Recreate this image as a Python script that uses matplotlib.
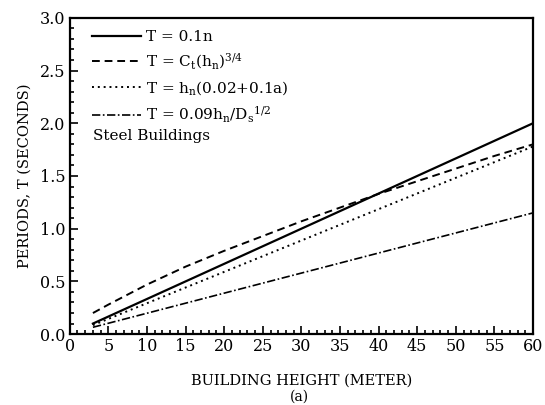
import matplotlib
matplotlib.use("Agg")
import matplotlib.pyplot as plt
from matplotlib.ticker import MultipleLocator

plt.rcParams["font.family"] = "DejaVu Serif"
plt.rcParams["mathtext.fontset"] = "dejavuserif"

# building height (m) and estimated periods for each code formula
h_lin = [3, 60]
t_stories = [0.10, 2.00]
h_curve = [3, 5, 10, 15, 20, 25, 30, 35, 40, 45, 50, 55, 60]
t_ct = [0.20, 0.28, 0.47, 0.64, 0.79, 0.93, 1.07, 1.20, 1.33, 1.45, 1.57, 1.69, 1.80]
t_hn = [0.085, 1.78]
t_ds = [0.065, 1.15]

labels = [
    "T = 0.1n",
    r"T = C$_{\rm t}$(h$_{\rm n}$)$^{3/4}$",
    r"T = h$_{\rm n}$(0.02+0.1a)",
    r"T = 0.09h$_{\rm n}$/D$_{\rm s}$$^{1/2}$",
]

fig = plt.figure(figsize=(5.45, 4.05), dpi=100)
ax = fig.add_axes([0.128, 0.175, 0.85, 0.781])

ax.plot(h_lin, t_stories, color="black", lw=1.6, ls="-", label=labels[0])
ax.plot(h_curve, t_ct, color="black", lw=1.4, ls=(0, (4, 2.5)), label=labels[1])
ax.plot(h_lin, t_hn, color="black", lw=1.4, ls=(0, (1, 2)), label=labels[2])
ax.plot(h_lin, t_ds, color="black", lw=1.2, ls=(0, (5, 1.5, 1, 1.5)), label=labels[3])

ax.set_xlim(0, 60)
ax.set_ylim(0, 3.0)
ax.xaxis.set_major_locator(MultipleLocator(5))
ax.xaxis.set_minor_locator(MultipleLocator(1))
ax.yaxis.set_major_locator(MultipleLocator(0.5))
ax.yaxis.set_minor_locator(MultipleLocator(0.1))
ax.yaxis.set_major_formatter(plt.FormatStrFormatter("%.1f"))
ax.tick_params(which="both", direction="in", labelsize=11.5, width=1.2, pad=3)
ax.tick_params(which="major", length=6)
ax.tick_params(which="minor", length=3)
for s in ax.spines.values():
    s.set_linewidth(1.6)

ax.set_xlabel("BUILDING HEIGHT (METER)", fontsize=10.5, labelpad=13)
ax.set_ylabel("PERIODS, T (SECONDS)", fontsize=10.5, labelpad=6)
fig.text(0.55, 0.01, "(a)", ha="center", fontsize=10)

leg = ax.legend(loc="upper left", bbox_to_anchor=(0.022, 1.0), frameon=False,
                fontsize=11, handlelength=3.2, handletextpad=0.3,
                labelspacing=0.5, borderaxespad=0.4)
ax.text(0.05, 0.625, "Steel Buildings", transform=ax.transAxes, fontsize=11,
        va="center")

fig.savefig("out.png", dpi=100)
